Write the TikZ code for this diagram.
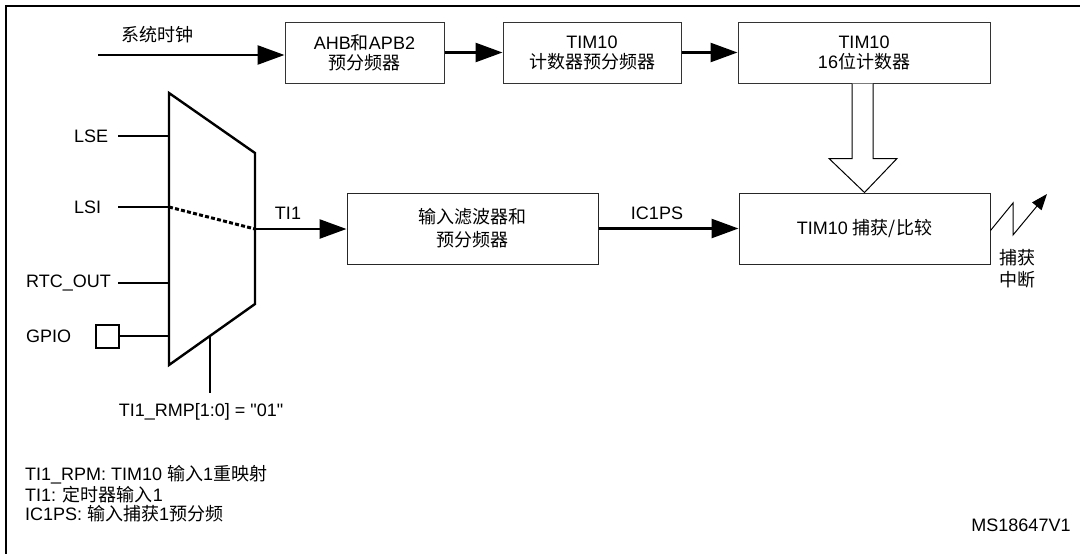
\documentclass[tikz,border=0pt]{standalone}
\usepackage{fontspec}
\setmainfont{Liberation Sans}[Ligatures=TeXOff]
\newfontfamily\cjkfont{Noto Sans CJK SC}
\newcommand{\zh}[1]{{\cjkfont #1}}
\usetikzlibrary{arrows.meta,calc}
\begin{document}
\begin{tikzpicture}[x=1pt,y=-1pt,
  every node/.style={font=\fontsize{18}{20}\selectfont, inner sep=0pt},
  box/.style={draw=black!80, line width=1pt, align=center, minimum height=61pt},
  bigbox/.style={draw=black!85, line width=1pt, align=center, minimum height=71pt, minimum width=251pt, font=\fontsize{18}{23}\selectfont},
  flow/.style={line width=2.6pt, -{Triangle[length=27pt,width=19pt]}},
  wire/.style={line width=2.4pt},
  frame/.style={line width=2pt},
  hollow/.style={draw=black, line width=1pt, fill=white, line join=miter},
  zig/.style={line width=1pt, -{Triangle[length=16pt,width=12pt]}},
  lbl/.style={anchor=west}
]
\useasboundingbox (0,0) rectangle (1080,554);

% frame
\draw[frame] (6,554) -- (6,6) -- (1080,6);

% top row
\node[box, minimum width=159pt] (b1) at (364.5,52.5) {AHB\zh{和}APB2\\\zh{预分频器}};
\node[box, minimum width=178pt] (b2) at (592,52.5) {TIM10\\\zh{计数器预分频器}};
\node[box, minimum width=252pt] (b3) at (864,52.5) {TIM10\\16\zh{位计数器}};

\coordinate (clk) at (98,55);
\node (clklbl) at (157,35) {\zh{系统时钟}};
\draw[flow] (clk) -- (clk -| b1.west);
\draw[flow] (b1.east) -- (b2.west);
\draw[flow] (b2.east) -- (b3.west);

% middle row
\node[bigbox] (filt) at (472.5,228.5) {\zh{输入滤波器和}\\\zh{预分频器}};
\node[bigbox] (cap) at (864.5,228.5) {TIM10 \zh{捕获/比较}};

% hollow arrow
\draw[hollow] ($(b3.south)+(-12,0)$) -- ++(0,75) -- ++(-23,0) -- (cap.north)
  -- ($(b3.south)+(33,75)$) -- ($(b3.south)+(9,75)$) -- ($(b3.south)+(9,0)$);

% mux
\coordinate (mTL) at (169,93);
\coordinate (mTR) at (255,153);
\coordinate (mBR) at (255,304);
\coordinate (mBL) at (169,365);
\draw[wire, line join=miter] (mTL) -- (mTR) -- (mBR) -- (mBL) -- cycle;

\coordinate (inLSE) at (169,136);
\coordinate (inLSI) at (169,207);
\coordinate (inRTC) at (169,283);
\coordinate (inGPIO) at (169,336);
\coordinate (sLSE) at (118,136);
\coordinate (sLSI) at (118,207);
\coordinate (sRTC) at (118,283);
\coordinate (mout) at (255,229);

\node[lbl] (lse) at (74,136) {LSE};
\node[lbl] (lsi) at (74,207) {LSI};
\node[lbl] (rtc) at (26,283) {RTC\_OUT};
\node[lbl] (gpio) at (26,336) {GPIO};
\node[draw, line width=2pt, minimum size=23pt] (gpiobox) at (107,336) {};

\draw[wire] (sLSE) -- (inLSE);
\draw[wire] (sLSI) -- (inLSI);
\draw[wire] (sRTC) -- (inRTC);
\draw[wire] (gpiobox.east) -- (inGPIO);
\draw[line width=3pt, dash pattern=on 4pt off 2.2pt] (inLSI) -- (mout);

\coordinate (sel) at (210,336);
\coordinate (selend) at (210,393);
\draw[line width=2pt] (sel) -- (selend);
\node (rmp) at (201,412) {TI1\_RMP[1:0] = "01"};

\draw[flow] (mout) -- (mout -| filt.west);
\node (ti1) at (288,213) {TI1};
\draw[flow] (filt.east) -- (cap.west);
\node (ic1ps) at (657,213) {IC1PS};

% capture interrupt
\coordinate (z1) at (1013,203);
\coordinate (z2) at (1013,235);
\coordinate (z3) at (1047,194);
\draw[zig] ($(cap.east)+(0,2)$) -- (z1) -- (z2) -- (z3);
\node[align=center, font=\fontsize{18}{22}\selectfont] (irq) at (1017,269) {\zh{捕获}\\\zh{中断}};

% legend
\node[lbl] (leg1) at (25,475) {TI1\_RPM: TIM10 \zh{输入}1\zh{重映射}};
\node[lbl] (leg2) at (25,495) {TI1: \zh{定时器输入}1};
\node[lbl] (leg3) at (25,514) {IC1PS: \zh{输入捕获}1\zh{预分频}};

\node (ms) at (1021,525) {MS18647V1};
\end{tikzpicture}
\end{document}
